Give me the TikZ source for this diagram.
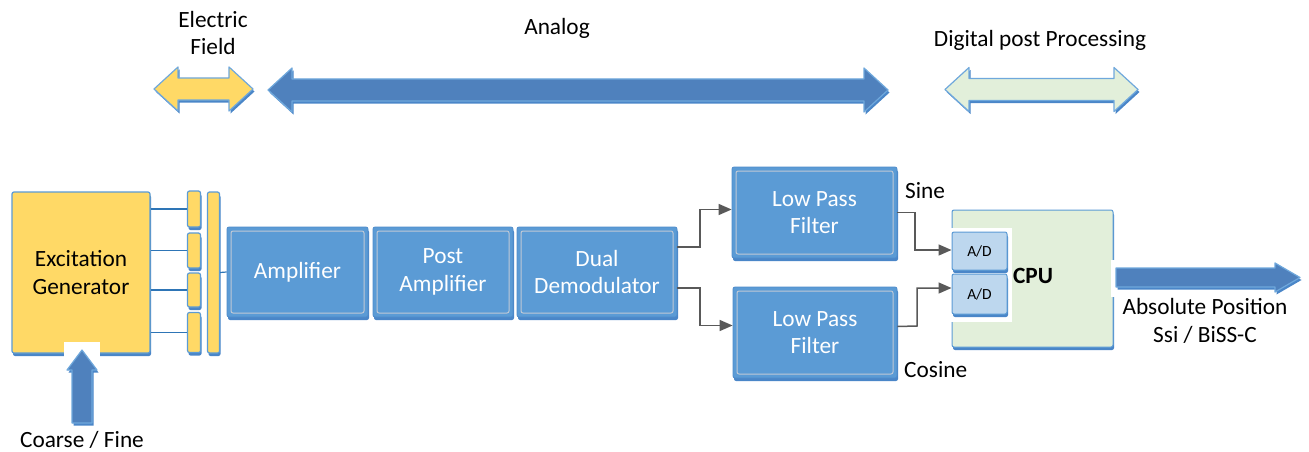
\documentclass[tikz,border=0pt]{standalone}
\usepackage{fontspec}
\setmainfont{Carlito}
\usetikzlibrary{shadows,arrows.meta}
\definecolor{ylw}{HTML}{FFD966}
\definecolor{boxblue}{HTML}{5B9BD5}
\definecolor{boxedge}{HTML}{4F8CCB}
\definecolor{shblue}{HTML}{4A86C8}
\definecolor{innerline}{HTML}{BFC9D6}
\definecolor{arrblue}{HTML}{4F81BD}
\definecolor{arredge}{HTML}{6FA8DC}
\definecolor{cpugreen}{HTML}{E2EFDA}
\definecolor{adblue}{HTML}{BDD7EE}
\definecolor{wiregray}{HTML}{595959}
\definecolor{linkblue}{HTML}{2E75B6}
\newcommand\fsz{\fontsize{23.3}{27.5}\selectfont}
\newcommand\dblarr[4]{%
  \path[bigarrow,fill=#4] (#1,#3) -- (#1+24,#3-22) -- (#1+24,#3-11) -- (#2-24,#3-11) -- (#2-24,#3-22) -- (#2,#3) -- (#2-24,#3+22) -- (#2-24,#3+11) -- (#1+24,#3+11) -- (#1+24,#3+22) -- cycle;}
\begin{document}
\begin{tikzpicture}[x=1pt,y=-1pt,
  shd/.style={drop shadow={shadow xshift=1pt,shadow yshift=-3pt,fill=shblue,opacity=1}},
  bbox/.style={draw=boxedge, fill=boxblue, rounded corners=2pt, line width=0.8pt,
    text=white, align=center, font=\fsz, inner sep=0pt, shd,
    path picture={\draw[innerline,line width=1pt]
      ([shift={(4pt,-4pt)}]path picture bounding box.north west) rectangle
      ([shift={(-4pt,4pt)}]path picture bounding box.south east);}},
  ybox/.style={draw=boxblue, fill=ylw, rounded corners=2pt, line width=1.2pt, inner sep=0pt, shd},
  adbox/.style={draw=boxblue, fill=adblue, rounded corners=2pt, line width=1pt, inner sep=0pt,
    font=\fontsize{15.5}{18}\selectfont, shd},
  bigarrow/.style={draw=arredge, line width=1.2pt, line join=round,
    drop shadow={shadow xshift=1.5pt,shadow yshift=-2.5pt,fill=shblue,opacity=1}},
  lbl/.style={align=center, font=\fsz, inner sep=0pt},
  wire/.style={draw=wiregray, line width=1.5pt, -{Triangle[length=13pt,width=11pt]}},
  link/.style={draw=linkblue, line width=1.2pt},
  whiteout/.style={fill=white, draw=none}]
\useasboundingbox[fill=white] (0,0) rectangle (1309,452);

% top range arrows
\dblarr{154}{253}{89}{ylw}
\dblarr{268}{888}{90}{arrblue}
\dblarr{945}{1138}{89.5}{cpugreen}
\node[lbl] (lef) at (213,33) {Electric\\Field};
\node[lbl] (lan) at (557,28) {Analog};
\node[lbl] (ldp) at (1040,40) {Digital post Processing};

% excitation generator and pickup bars
\node[ybox, minimum width=138pt, minimum height=161pt, align=center, font=\fsz] (exc) at (81,272.5) {Excitation\\Generator};
\node[ybox, minimum width=13pt, minimum height=36pt] (b1) at (194,209) {};
\node[ybox, minimum width=13pt, minimum height=35pt] (b2) at (194,250.5) {};
\node[ybox, minimum width=13pt, minimum height=34pt] (b3) at (194,290) {};
\node[ybox, minimum width=13pt, minimum height=40pt] (b4) at (194,332.5) {};
\node[ybox, minimum width=12pt, minimum height=161pt] (tb) at (213.5,272.5) {};
\draw[link] (b1.west -| exc.east) -- (b1.west);
\draw[link] (b2.west -| exc.east) -- (b2.west);
\draw[link] (b3.west -| exc.east) -- (b3.west);
\draw[link] (b4.west -| exc.east) -- (b4.west);

% coarse / fine input
\fill[whiteout] (64,342) rectangle (100,357);
\path[bigarrow,fill=arrblue] (82,350) -- (97,370) -- (92,370) -- (92,423) -- (72,423) -- (72,370) -- (67,370) -- cycle;
\node[lbl] (lcf) at (82,440) {Coarse / Fine};

% analog chain
\node[bbox, minimum width=141pt, minimum height=90pt] (amp) at (297.5,272) {Amplifier};
\node[bbox, minimum width=140pt, minimum height=90pt] (pamp) at (443,272) {Post\\Amplifier};
\node[bbox, minimum width=160pt, minimum height=90pt] (dd) at (597,272) {Dual\\Demodulator};
\draw[link] (tb.east) -- (amp.west);
\node[bbox, minimum width=165pt, minimum height=91pt] (lpf1) at (814.5,212.5) {Low Pass\\Filter};
\node[bbox, minimum width=164pt, minimum height=91pt] (lpf2) at (815,332.5) {Low Pass\\Filter};
\node[lbl, anchor=west] (lsin) at (905,191) {Sine};
\node[lbl, anchor=west] (lcos) at (904,370) {Cosine};

% CPU
\node[draw=boxblue, fill=cpugreen, rounded corners=2pt, line width=1pt, shd,
  minimum width=161pt, minimum height=137pt, inner sep=0pt] (cpu) at (1032.5,278.5) {};
\fill[whiteout] (948,228) rectangle (1012,322);
\node[adbox, minimum width=55pt, minimum height=38pt] (adt) at (979.5,251) {A/D};
\node[adbox, minimum width=55pt, minimum height=40pt] (adb) at (979.5,294) {A/D};
\node[lbl, font=\fsz\bfseries] (lcpu) at (1033,276) {CPU};

\draw[wire] ([yshift=25pt]dd.east) -- (700,247) |- ([yshift=3pt]lpf1.west);
\draw[wire] ([yshift=-16pt]dd.east) -- (700,288) |- ([yshift=7pt]lpf2.west);
\draw[wire] (lpf1.east) -- (915,212.5) |- ([yshift=1pt]adt.west);
\draw[wire] ([yshift=6pt]lpf2.east) -- (917,326) |- ([yshift=6pt]adb.west);

% output
\fill[whiteout] (1111,260) rectangle (1119,297);
\path[bigarrow,fill=arrblue] (1116,268) -- (1275,268) -- (1275,263) -- (1300,277.5) -- (1275,292) -- (1275,287) -- (1116,287) -- cycle;
\node[lbl] (lout) at (1205,321) {Absolute Position\\Ssi / BiSS-C};
\end{tikzpicture}
\end{document}
